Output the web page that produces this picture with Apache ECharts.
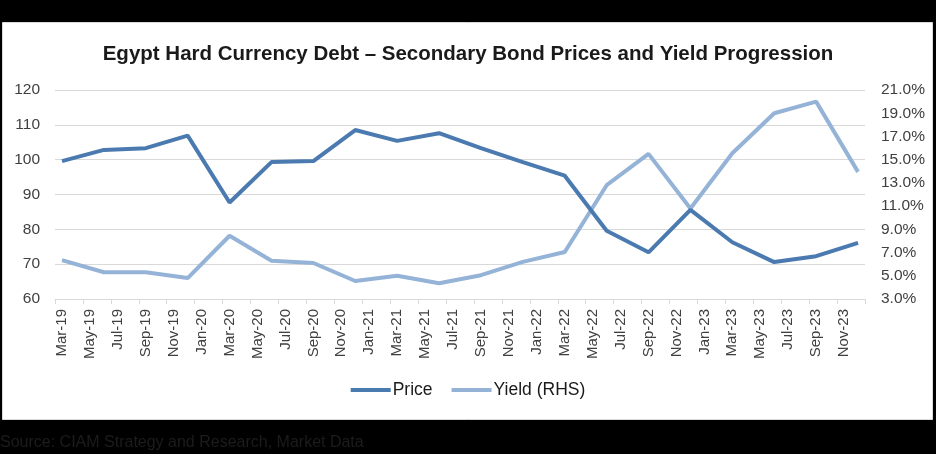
<!DOCTYPE html>
<html>
<head>
<meta charset="utf-8">
<script src="https://cdn.jsdelivr.net/npm/echarts@6/dist/echarts.min.js"></script>
<style>
html,body{margin:0;padding:0;background:#000;}
#chart{width:936px;height:454px;}
</style>
</head>
<body>
<div id="chart"></div>
<script>
// Monthly category axis (Mar-19 .. Dec-23)
const months = ["Mar-19","Apr-19","May-19","Jun-19","Jul-19","Aug-19","Sep-19","Oct-19","Nov-19","Dec-19",
"Jan-20","Feb-20","Mar-20","Apr-20","May-20","Jun-20","Jul-20","Aug-20","Sep-20","Oct-20","Nov-20","Dec-20",
"Jan-21","Feb-21","Mar-21","Apr-21","May-21","Jun-21","Jul-21","Aug-21","Sep-21","Oct-21","Nov-21","Dec-21",
"Jan-22","Feb-22","Mar-22","Apr-22","May-22","Jun-22","Jul-22","Aug-22","Sep-22","Oct-22","Nov-22","Dec-22",
"Jan-23","Feb-23","Mar-23","Apr-23","May-23","Jun-23","Jul-23","Aug-23","Sep-23","Oct-23","Nov-23","Dec-23"];
// Quarterly observations
const obsDates = ["Mar-19","Jun-19","Sep-19","Dec-19","Mar-20","Jun-20","Sep-20","Dec-20","Mar-21","Jun-21",
"Sep-21","Dec-21","Mar-22","Jun-22","Sep-22","Dec-22","Mar-23","Jun-23","Sep-23","Dec-23"];
const price = [99.6,102.8,103.3,106.9,87.7,99.3,99.6,108.5,105.4,107.6,103.3,99.3,95.4,79.6,73.4,85.6,76.3,70.6,72.3,76.1];
const yieldPct = [6.35,5.3,5.3,4.8,8.45,6.3,6.1,4.55,5.0,4.35,5.05,6.2,7.05,12.8,15.5,10.8,15.55,19.0,20.0,13.95];
const leftTicks = {min:60, max:120, step:10};
const rightTicks = {min:3, max:21, step:2};

function spread(vals){
  const out = months.map(()=>null);
  obsDates.forEach((d,i)=>{ out[months.indexOf(d)] = vals[i]; });
  return out;
}

const chart = echarts.init(document.getElementById('chart'), null, {renderer:'canvas'});
const font = 'Arial, "Liberation Sans", sans-serif';
chart.setOption({
  backgroundColor:'#000',
  animation:false,
  graphic:[
    {type:'rect', z:-10, shape:{x:2.5,y:22.5,width:930,height:397}, style:{fill:'#fff', stroke:'#d9d9d9', lineWidth:1}},
    {type:'text', left:0, top:435, style:{text:'Source: CIAM Strategy and Research, Market Data', fill:'#1c1c1c', font:'16px ' + font}}
  ],
  title:{
    text:'Egypt Hard Currency Debt \u2013 Secondary Bond Prices and Yield Progression',
    left:'center', top:39,
    textStyle:{fontFamily:font, fontSize:20.5, fontWeight:'bold', color:'#1a1a1a'}
  },
  legend:{
    bottom:50, left:'center', itemWidth:40, itemHeight:4, itemGap:19, icon:'rect',
    textStyle:{fontFamily:font, fontSize:17.5, color:'#1a1a1a', padding:[0,0,0,-3]},
    data:['Price','Yield (RHS)']
  },
  grid:{left:55, right:71, top:90, bottom:155, containLabel:false},
  xAxis:{
    type:'category', data:months, boundaryGap:true,
    axisLine:{lineStyle:{color:'#d9d9d9', width:1}},
    axisTick:{show:true, interval:1, length:5, lineStyle:{color:'#d9d9d9'}},
    axisLabel:{interval:1, rotate:90, margin:10, fontFamily:font, fontSize:15, color:'#404040'},
    splitLine:{show:false}
  },
  yAxis:[
    {type:'value', min:leftTicks.min, max:leftTicks.max, interval:leftTicks.step,
     axisLine:{show:false}, axisTick:{show:false},
     axisLabel:{margin:15, fontFamily:font, fontSize:15.5, color:'#404040'},
     splitLine:{lineStyle:{color:'#d9d9d9', width:1}}},
    {type:'value', min:rightTicks.min, max:rightTicks.max, interval:rightTicks.step, position:'right',
     axisLine:{show:false}, axisTick:{show:false},
     axisLabel:{margin:16, fontFamily:font, fontSize:15.5, color:'#404040', formatter:v=>v.toFixed(1)+'%'},
     splitLine:{show:false}}
  ],
  series:[
    {name:'Price', type:'line', yAxisIndex:0, data:spread(price), connectNulls:true, showSymbol:false,
     lineStyle:{color:'#4a7ab0', width:4}, itemStyle:{color:'#4a7ab0'}, z:3},
    {name:'Yield (RHS)', type:'line', yAxisIndex:1, data:spread(yieldPct), connectNulls:true, showSymbol:false,
     lineStyle:{color:'#95b3d7', width:4}, itemStyle:{color:'#95b3d7'}, z:2}
  ]
});
</script>
</body>
</html>
